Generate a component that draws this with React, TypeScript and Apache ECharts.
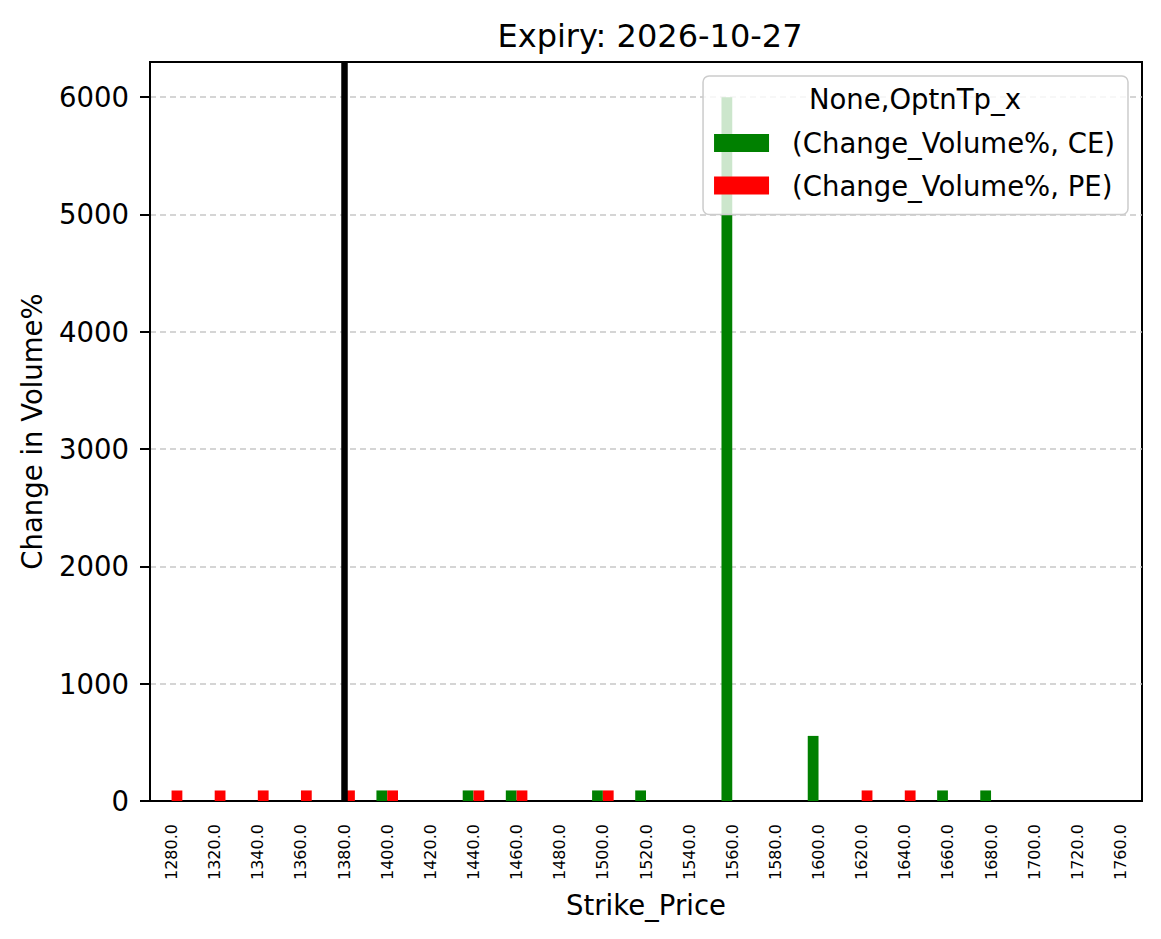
import { useEffect, useRef } from 'react'
import * as echarts from 'echarts'

const STRIKES = [
  '1280.0', '1320.0', '1340.0', '1360.0', '1380.0', '1400.0', '1420.0', '1440.0',
  '1460.0', '1480.0', '1500.0', '1520.0', '1540.0', '1560.0', '1580.0', '1600.0',
  '1620.0', '1640.0', '1660.0', '1680.0', '1700.0', '1720.0', '1760.0',
]
const CE_VALUES = [0, 0, 0, 0, 0, 90, 0, 90, 90, 0, 90, 90, 0, 6000, 0, 555, 0, 0, 90, 90, 0, 0, 0]
const PE_VALUES = [90, 90, 90, 90, 90, 90, 0, 90, 90, 0, 90, 0, 0, 0, 0, 0, 90, 90, 0, 0, 0, 0, 0]
const Y_TICKS = [0, 1000, 2000, 3000, 4000, 5000, 6000]
const SPOT_STRIKE = '1380.0'

const FONT = 'DejaVu Sans'

export default function App() {
  const elRef = useRef<HTMLDivElement>(null)

  useEffect(() => {
    document.body.style.margin = '0'
    if (!elRef.current) return
    const chart = echarts.init(elRef.current, null, { renderer: 'svg' })
    chart.setOption({
      animation: false,
      backgroundColor: '#fff',
      textStyle: { fontFamily: FONT },
      title: {
        text: 'Expiry: 2026-10-27',
        left: 645,
        top: 15,
        textAlign: 'center',
        textStyle: { fontFamily: FONT, fontSize: 32, fontWeight: 'normal', color: '#000' },
      },
      grid: {
        left: 150,
        top: 62,
        right: 19,
        bottom: 138,
        show: true,
        borderColor: '#000',
        borderWidth: 2,
        backgroundColor: 'transparent',
      },
      legend: {
        orient: 'vertical',
        right: 33,
        top: 76,
        icon: 'rect',
        itemWidth: 55,
        itemHeight: 18,
        itemGap: 12.5,
        padding: [52, 13, 14, 11],
        backgroundColor: 'rgba(255,255,255,0.8)',
        borderColor: '#cccccc',
        borderWidth: 1.5,
        borderRadius: 6,
        textStyle: { fontFamily: FONT, fontSize: 27.5, color: '#000', lineHeight: 30, padding: [0, 0, 0, 18] },
        data: ['(Change_Volume%, CE)', '(Change_Volume%, PE)'],
      },
      graphic: [
        {
          type: 'text',
          x: 915,
          y: 99,
          z: 100,
          style: {
            text: 'None,OptnTp_x',
            fontFamily: FONT,
            fontSize: 27.5,
            fill: '#000',
            align: 'center',
            verticalAlign: 'middle',
          },
        },
      ],
      xAxis: {
        type: 'category',
        data: STRIKES,
        boundaryGap: true,
        name: 'Strike_Price',
        nameLocation: 'middle',
        nameGap: 90,
        nameTextStyle: { fontFamily: FONT, fontSize: 27.5, color: '#000' },
        axisLine: { lineStyle: { color: '#000', width: 2 } },
        axisTick: { alignWithLabel: true, length: 8, lineStyle: { color: '#000', width: 2 } },
        axisLabel: { rotate: 90, fontSize: 16, color: '#000', margin: 23, fontFamily: FONT, interval: 0 },
        splitLine: { show: false },
      },
      yAxis: {
        type: 'value',
        min: 0,
        max: 6300,
        interval: 1000,
        name: 'Change in Volume%',
        nameLocation: 'middle',
        nameGap: 104,
        nameTextStyle: { fontFamily: FONT, fontSize: 27.5, color: '#000' },
        axisLine: { show: true, lineStyle: { color: '#000', width: 2 } },
        axisTick: { show: true, length: 10, customValues: Y_TICKS, lineStyle: { color: '#000', width: 2 } },
        axisLabel: {
          fontSize: 27.5,
          color: '#000',
          margin: 21,
          fontFamily: FONT,
          customValues: Y_TICKS,
          formatter: (v: number) => String(v),
        },
        splitLine: { show: true, lineStyle: { color: '#c8c8c8', width: 1.5, type: [6, 4] } },
      },
      series: [
        {
          name: '(Change_Volume%, CE)',
          type: 'bar',
          data: CE_VALUES,
          barWidth: '25%',
          barGap: '0%',
          itemStyle: { color: '#008000' },
        },
        {
          name: '(Change_Volume%, PE)',
          type: 'bar',
          data: PE_VALUES,
          barWidth: '25%',
          barGap: '0%',
          itemStyle: { color: '#ff0000' },
        },
        {
          name: 'spot',
          type: 'line',
          data: [],
          markLine: {
            silent: true,
            symbol: ['none', 'none'],
            label: { show: false },
            lineStyle: { color: '#000', width: 6.5, type: 'solid' },
            data: [{ xAxis: SPOT_STRIKE }],
          },
        },
      ],
    })
    return () => {
      chart.dispose()
    }
  }, [])

  return <div ref={elRef} style={{ width: 1161, height: 939 }} />
}
